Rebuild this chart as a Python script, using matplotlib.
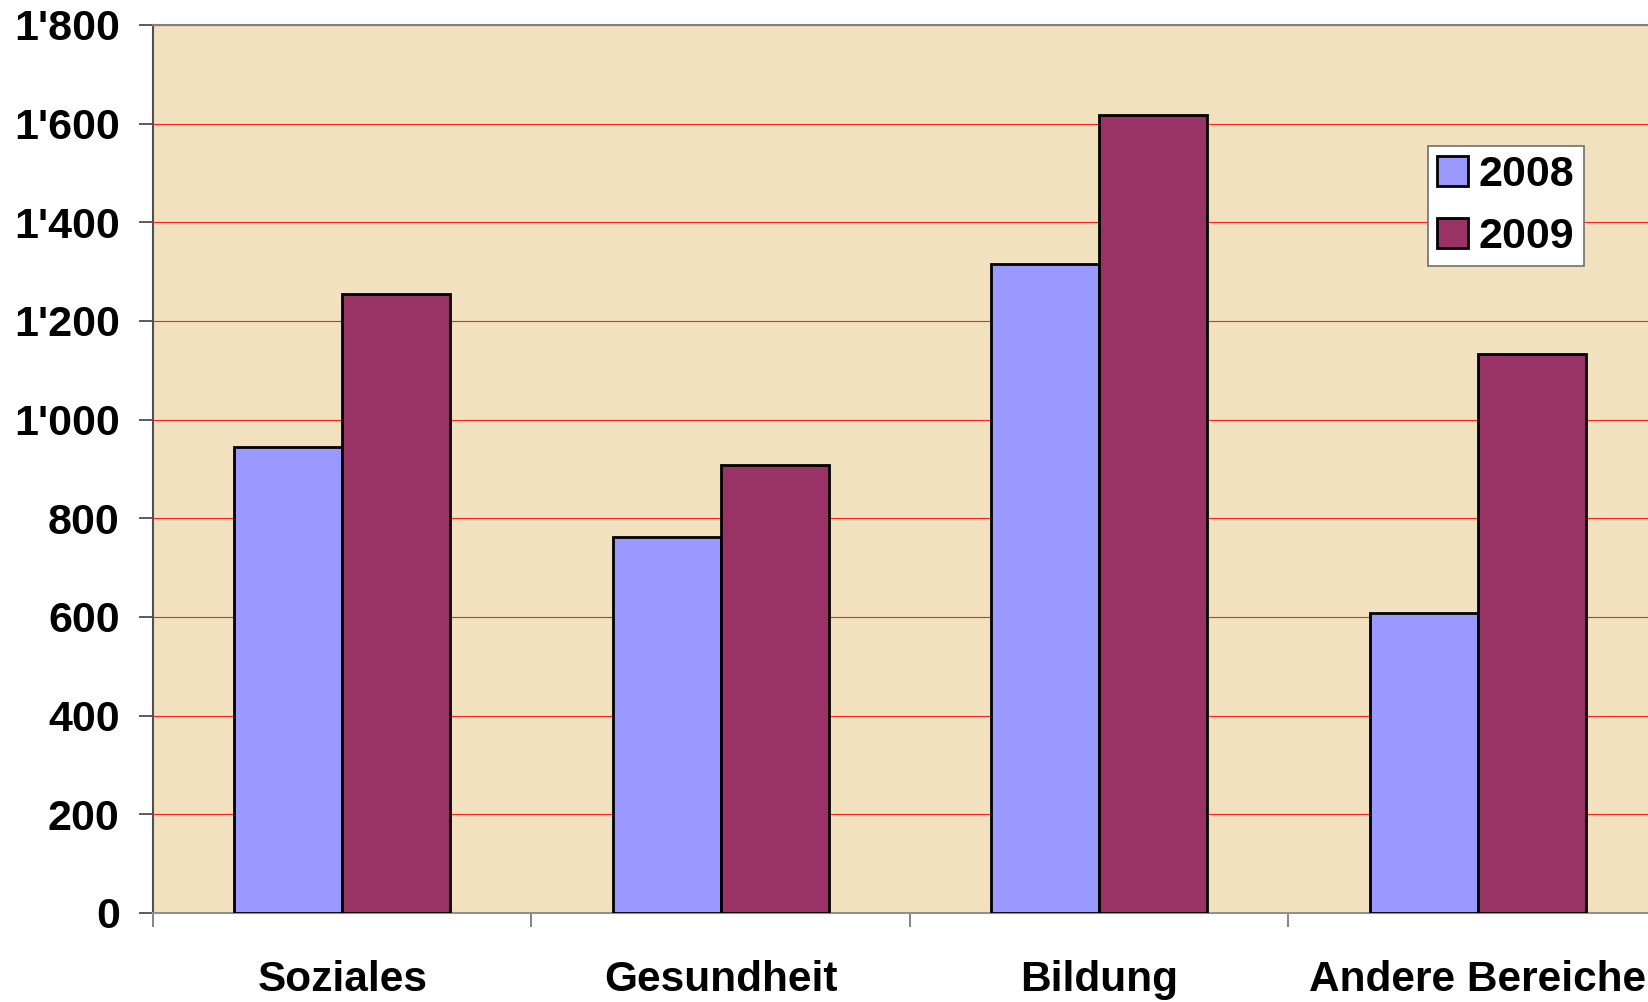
import matplotlib
matplotlib.use("Agg")
import matplotlib.pyplot as plt
from matplotlib.ticker import FuncFormatter, FixedLocator
import numpy as np

categories = ["Soziales", "Gesundheit", "Bildung", "Andere Bereiche"]
series_names = ["2008", "2009"]
values_2008 = [944, 763, 1315, 609]
values_2009 = [1255, 908, 1617, 1134]
yticks = [0, 200, 400, 600, 800, 1000, 1200, 1400, 1600, 1800]

plt.rcParams['font.family'] = ['Liberation Sans', 'DejaVu Sans']
plt.rcParams['font.weight'] = 'bold'

W, H = 1649, 1002
fig = plt.figure(figsize=(W / 100, H / 100), dpi=100)
fig.patch.set_facecolor('white')

left_px, right_px = 153, 1667
top_px, bottom_px = 25, 913
ax = fig.add_axes([left_px / W, 1 - bottom_px / H,
                   (right_px - left_px) / W, (bottom_px - top_px) / H])
ax.set_facecolor('#F1E1BE')

x = np.arange(len(categories))
w = 1 / 3.5
ax.bar(x - w / 2, values_2008, width=w, color='#9999FF', edgecolor='black',
       linewidth=2.0, label=series_names[0], zorder=3)
ax.bar(x + w / 2, values_2009, width=w, color='#993366', edgecolor='black',
       linewidth=2.0, label=series_names[1], zorder=3)

ax.set_xlim(-0.5, len(categories) - 0.5)
ax.set_ylim(0, 1800)
ax.set_yticks(yticks)
ax.yaxis.set_major_formatter(FuncFormatter(lambda v, p: f"{int(v):,}".replace(",", "'")))
ax.grid(axis='y', color='#FF2020', linewidth=0.8)
ax.set_axisbelow(True)

# category boundary ticks and centered labels
ax.xaxis.set_major_locator(FixedLocator(np.arange(len(categories) + 1) - 0.5))
ax.xaxis.set_major_formatter(FuncFormatter(lambda v, p: ""))
ax.xaxis.set_minor_locator(FixedLocator(x))
ax.set_xticklabels(categories, minor=True)
ax.tick_params(axis='x', which='major', length=10, width=1.2, color='#707070', direction='out')
ax.tick_params(axis='x', which='minor', length=0, pad=34, labelsize=30.5)
ax.tick_params(axis='y', length=10, width=1.2, color='#404040', direction='out',
               pad=14, labelsize=31)

for lab in ax.get_xticklabels(minor=True) + ax.get_yticklabels():
    lab.set_fontweight('bold')

ax.spines['left'].set_color('#505050')
ax.spines['left'].set_linewidth(1.5)
ax.spines['bottom'].set_color('#909090')
ax.spines['bottom'].set_linewidth(1.5)
ax.spines['top'].set_color('#808080')
ax.spines['top'].set_linewidth(1.5)
ax.spines['right'].set_visible(False)

leg = ax.legend(loc='upper left', bbox_to_anchor=(1428 / W, 1 - 146 / H),
                bbox_transform=fig.transFigure, borderaxespad=0,
                prop={'family': 'Liberation Sans', 'weight': 'bold', 'size': 31},
                handlelength=0.7, handleheight=0.7, handletextpad=0.25,
                labelspacing=0.5, borderpad=0.22, fancybox=False, framealpha=1,
                facecolor='white', edgecolor='#707070')
leg.get_frame().set_linewidth(1.2)

fig.savefig('out.png', dpi=100)
